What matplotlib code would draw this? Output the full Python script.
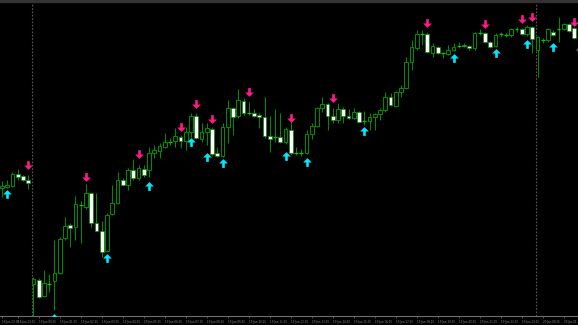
import matplotlib
matplotlib.use("Agg")
import matplotlib.pyplot as plt
from matplotlib.path import Path
from matplotlib.patches import Rectangle
import numpy as np
import pandas as pd

# ---- data (M15 candles, price units) ----
opens = [137, 138, 139, 151, 149, 145, 41, 45, 29, 41, 44, 52, 87, 100, 98, 120, 118, 132, 102, 94,
         74, 111, 122, 145, 140, 155, 147, 156, 155, 172, 174, 178, 183, 184, 188, 184, 193, 209, 186, 193,
         196, 172, 169, 198, 217, 209, 224, 212, 212, 210, 208, 189, 188, 188, 183, 195, 172, 172, 172, 191,
         199, 217, 221, 209, 205, 216, 209, 207, 213, 204, 204, 208, 211, 215, 228, 219, 233, 237, 263, 277,
         291, 291, 272, 278, 272, 271, 275, 279, 280, 279, 277, 292, 292, 283, 279, 291, 290, 290, 296, 296,
         291, 298, 275, 285, 285, 293, 296, 296, 301, 297, 286]
highs = [144, 145, 153, 156, 150, 150, 48, 47, 55, 51, 85, 88, 108, 102, 129, 124, 141, 133, 132, 104,
         112, 140, 153, 147, 157, 166, 160, 160, 178, 180, 182, 192, 187, 197, 190, 198, 212, 212, 202, 202,
         198, 178, 202, 225, 218, 236, 227, 223, 216, 212, 228, 209, 216, 212, 198, 208, 178, 176, 195, 202,
         218, 228, 222, 217, 222, 218, 216, 217, 214, 214, 212, 212, 217, 233, 232, 234, 240, 268, 285, 295,
         295, 293, 282, 279, 273, 280, 282, 283, 282, 280, 293, 296, 293, 284, 292, 293, 292, 297, 298, 297,
         300, 299, 289, 287, 297, 295, 308, 302, 302, 298, 297]
lows = [128, 137, 138, 145, 144, 136, 8, 27, 28, 33, 15, 51, 85, 78, 85, 82, 116, 98, 94, 68,
        73, 110, 121, 139, 135, 145, 145, 148, 148, 167, 167, 177, 180, 178, 177, 175, 188, 186, 183, 180,
        170, 168, 168, 182, 190, 207, 210, 210, 208, 197, 187, 173, 183, 182, 181, 171, 170, 169, 171, 186,
        198, 213, 195, 202, 202, 202, 206, 206, 202, 200, 195, 195, 205, 213, 219, 218, 228, 236, 255, 275,
        280, 272, 268, 271, 267, 270, 274, 277, 278, 275, 275, 290, 282, 277, 278, 288, 288, 288, 293, 290,
        289, 272, 248, 282, 283, 289, 283, 295, 293, 286, 283]
closes = [139, 140, 151, 148, 145, 142, 46, 28, 42, 41, 52, 86, 99, 97, 121, 120, 132, 102, 94, 73,
          110, 122, 145, 140, 155, 147, 157, 150, 172, 175, 179, 183, 183, 189, 184, 193, 209, 187, 193, 197,
          171, 169, 198, 217, 208, 225, 212, 212, 209, 208, 189, 186, 188, 183, 196, 172, 172, 172, 191, 199,
          217, 221, 209, 205, 216, 209, 207, 213, 203, 204, 208, 211, 215, 228, 220, 233, 237, 263, 278, 291,
          291, 273, 279, 272, 272, 275, 278, 279, 279, 277, 292, 292, 283, 278, 290, 291, 290, 296, 296, 291,
          298, 286, 288, 285, 296, 290, 296, 301, 294, 287, 295]

# signal arrows (bar index, price)
sell_idx = [5, 16, 26, 34, 37, 40, 47, 55, 63, 81, 92, 99, 101, 109]
sell_price = [160, 148, 171, 198, 221, 206, 233, 207, 227, 302, 301, 306, 308, 303]
buy_idx = [1, 10, 20, 28, 36, 39, 42, 54, 58, 69, 86, 94, 100, 105, 110]
buy_price = [131, 7, 67, 139, 183, 168, 162, 169, 163, 194, 267, 272, 281, 278, 275]

separator_idx = [6, 102]
label_idx = [0, 3] + list(range(7, 111, 4))
bar_times = pd.date_range("2021-01-18 22:30", periods=len(opens), freq="15min")
tick_labels = [bar_times[i].strftime("%d %b %H:%M") for i in label_idx]

# ---- style ----
GREEN = "#008a00"
LIME = "#00d000"
PINK = "#ff1a8c"
CYAN = "#00e8ff"
GREY = "#6e6e6e"

o = np.array(opens, float)
h = np.array(highs, float)
l = np.array(lows, float)
c = np.array(closes, float)
x = np.arange(len(o))

fig = plt.figure(figsize=(5.78, 3.25), dpi=100, facecolor="black")
ax = fig.add_axes([0, 9 / 325, 1, 314 / 325])
ax.set_facecolor("black")

for s in separator_idx:
    ax.axvline(s - 0.2, color="#5a5a5a", lw=0.8, ls=(0, (1.5, 1.5)), zorder=0)

ax.vlines(x, l, h, color=GREEN, lw=0.75, zorder=1)
bull = c > o
bear = c < o
doji = c == o
w = 0.7
ax.bar(x[bull], (c - o)[bull], bottom=o[bull], width=w, facecolor="black",
       edgecolor=GREEN, lw=0.75, zorder=2)
ax.bar(x[bear], (o - c)[bear], bottom=c[bear], width=w, facecolor="white",
       edgecolor=GREEN, lw=0.5, zorder=2)
ax.hlines(o[doji], x[doji] - w / 2, x[doji] + w / 2, color=LIME, lw=0.9, zorder=2)

down_arrow = Path([(-0.3, 1), (0.3, 1), (0.3, 0), (1, 0), (0, -1), (-1, 0), (-0.3, 0), (-0.3, 1)],
                  [Path.MOVETO] + [Path.LINETO] * 6 + [Path.CLOSEPOLY])
up_arrow = Path([(-0.3, -1), (0.3, -1), (0.3, 0), (1, 0), (0, 1), (-1, 0), (-0.3, 0), (-0.3, -1)],
                [Path.MOVETO] + [Path.LINETO] * 6 + [Path.CLOSEPOLY])
ax.plot(sell_idx, sell_price, ls="none", marker=down_arrow, ms=6.3, color=PINK, mec=PINK, mew=0, zorder=3)
ax.plot(buy_idx, buy_price, ls="none", marker=up_arrow, ms=6.3, color=CYAN, mec=CYAN, mew=0, zorder=3)

ax.set_xlim(-0.38, 109.71)
ax.set_ylim(9, 323)
for side in ["top", "left", "right"]:
    ax.spines[side].set_visible(False)
ax.spines["bottom"].set_color(GREY)
ax.spines["bottom"].set_linewidth(0.8)
ax.set_yticks([])
ax.set_xticks(label_idx)
ax.set_xticklabels(tick_labels, fontsize=2.0, color="#8c8c8c", ha="left")
ax.tick_params(axis="x", length=1.5, width=0.5, color=GREY, pad=1.2)

fig.patches.append(Rectangle((0, 1 - 2 / 325), 1, 2 / 325, transform=fig.transFigure,
                             color="#333333", zorder=10))

fig.savefig("out.png", dpi=100, facecolor="black")
